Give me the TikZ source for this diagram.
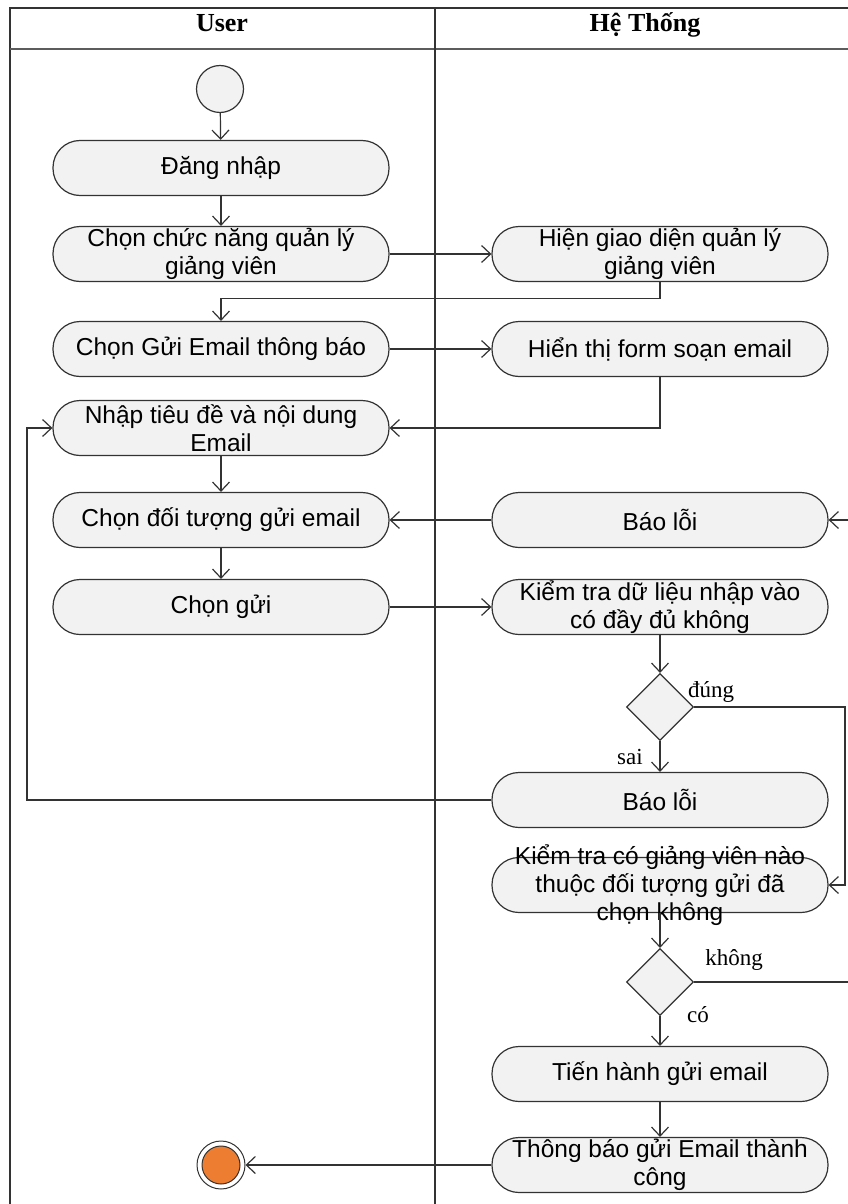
\documentclass[tikz,border=0pt]{standalone}
\usepackage{fontspec}
\setmainfont{Liberation Serif}
\newfontfamily\actfont{Liberation Sans}
\usetikzlibrary{arrows.meta,shapes.geometric}
\definecolor{actfill}{HTML}{F2F2F2}
\definecolor{linec}{HTML}{333333}
\definecolor{endfill}{HTML}{ED7D31}

\begin{document}
\begin{tikzpicture}[x=1pt,y=-1pt,
  act/.style={draw=linec, fill=actfill, line width=1.2pt, rounded corners=27pt,
    minimum width=336pt, minimum height=55pt, inner sep=0pt},
  txt/.style={font=\actfont\fontsize{24.5}{28}\selectfont, align=center, text=black, inner sep=0pt},
  flow/.style={draw=linec, line width=1.2pt, -{Straight Barb[length=9pt,width=17pt]}},
  lane/.style={draw=linec, line width=2pt},
  dec/.style={diamond, draw=linec, fill=actfill, line width=1.2pt, aspect=1,
    minimum width=67pt, minimum height=67pt, inner sep=0pt},
  lbl/.style={font=\fontsize{23}{25}\selectfont, inner sep=0pt},
  head/.style={font=\bfseries\fontsize{26}{28}\selectfont, inner sep=0pt, anchor=base},
]
\useasboundingbox (0,0) rectangle (848,1204);
\clip (0,0) rectangle (848,1204);

% swimlane frame
\draw[lane] (10,1220) -- (10,8) -- (860,8);
\draw[lane, line width=2.6pt, draw=linec!80] (10,49) -- (860,49);
\draw[lane] (435,8) -- (435,1220);
\node[head] (huser) at (222,32) {User};
\node[head] (hsys) at (645,32) {Hệ Thống};

% activity with centred text on top
\newcommand\actnode[4]{%
  \node[act] (#1) at (#2,#3) {};
  \node[txt] (#1-t) at (#1.center) {#4};}

% start node
\node[circle, draw=linec, fill=actfill, line width=1.2pt, minimum size=47pt, inner sep=0pt] (start) at (220,89) {};

% User lane
\actnode{login}{221}{168}{Đăng nhập}
\actnode{choosefn}{221}{254}{Chọn chức năng quản lý\\giảng viên}
\actnode{sendmail}{221}{349}{Chọn Gửi Email thông báo}
\actnode{input}{221}{428}{Nhập tiêu đề và nội dung\\Email}
\actnode{target}{221}{520}{Chọn đối tượng gửi email}
\actnode{send}{221}{607}{Chọn gửi}

% System lane
\actnode{showui}{660}{254}{Hiện giao diện quản lý\\giảng viên}
\actnode{form}{660}{349}{Hiển thị form soạn email}
\actnode{err1}{660}{520}{Báo lỗi}
\actnode{check1}{660}{607}{Kiểm tra dữ liệu nhập vào\\có đầy đủ không}
\node[dec] (d1) at (660,707) {};
\actnode{err2}{660}{800}{Báo lỗi}
\actnode{check2}{660}{885}{Kiểm tra có giảng viên nào\\thuộc đối tượng gửi đã\\chọn không}
\node[dec] (d2) at (660,982) {};
\actnode{sendnow}{660}{1074}{Tiến hành gửi email}
\actnode{notify}{660}{1165}{Thông báo gửi Email thành\\công}

% final node
\node[circle, draw=linec, fill=white, line width=1pt, minimum size=48pt, inner sep=0pt] (final) at (221,1165) {};
\node[circle, draw=linec, fill=endfill, line width=1pt, minimum size=38pt, inner sep=0pt] (finalin) at (final.center) {};

% guard labels
\node[lbl] (ltrue) at (711,692) {đúng};
\node[lbl] (lfalse) at (630,757) {sai};
\node[lbl] (lno) at (734,960) {không};
\node[lbl] (lyes) at (698,1015) {có};

% control flow
\draw[flow] (start) -- (login);
\draw[flow] (login) -- (choosefn);
\draw[flow] (choosefn) -- (showui);
\draw[flow] (showui.south) -- ++(0,16) -| (sendmail.north);
\draw[flow] (sendmail) -- (form);
\draw[flow] (form.south) |- (input.east);
\draw[flow] (input) -- (target);
\draw[flow] (err1) -- (target);
\draw[flow] (target) -- (send);
\draw[flow] (send) -- (check1);
\draw[flow] (check1) -- (d1);
\draw[flow] (d1) -- (err2);
\draw[flow] (d1.east) -- (845,707) |- (check2.east);
\draw[flow] (err2.west) -- (27,800) |- (input.west);
\draw[flow] (check2) -- (d2);
\draw[flow] (d2.east) -- (854,982) |- (err1.east);
\draw[flow] (d2) -- (sendnow);
\draw[flow] (sendnow) -- (notify);
\draw[flow] (notify) -- (final);
\end{tikzpicture}
\end{document}
